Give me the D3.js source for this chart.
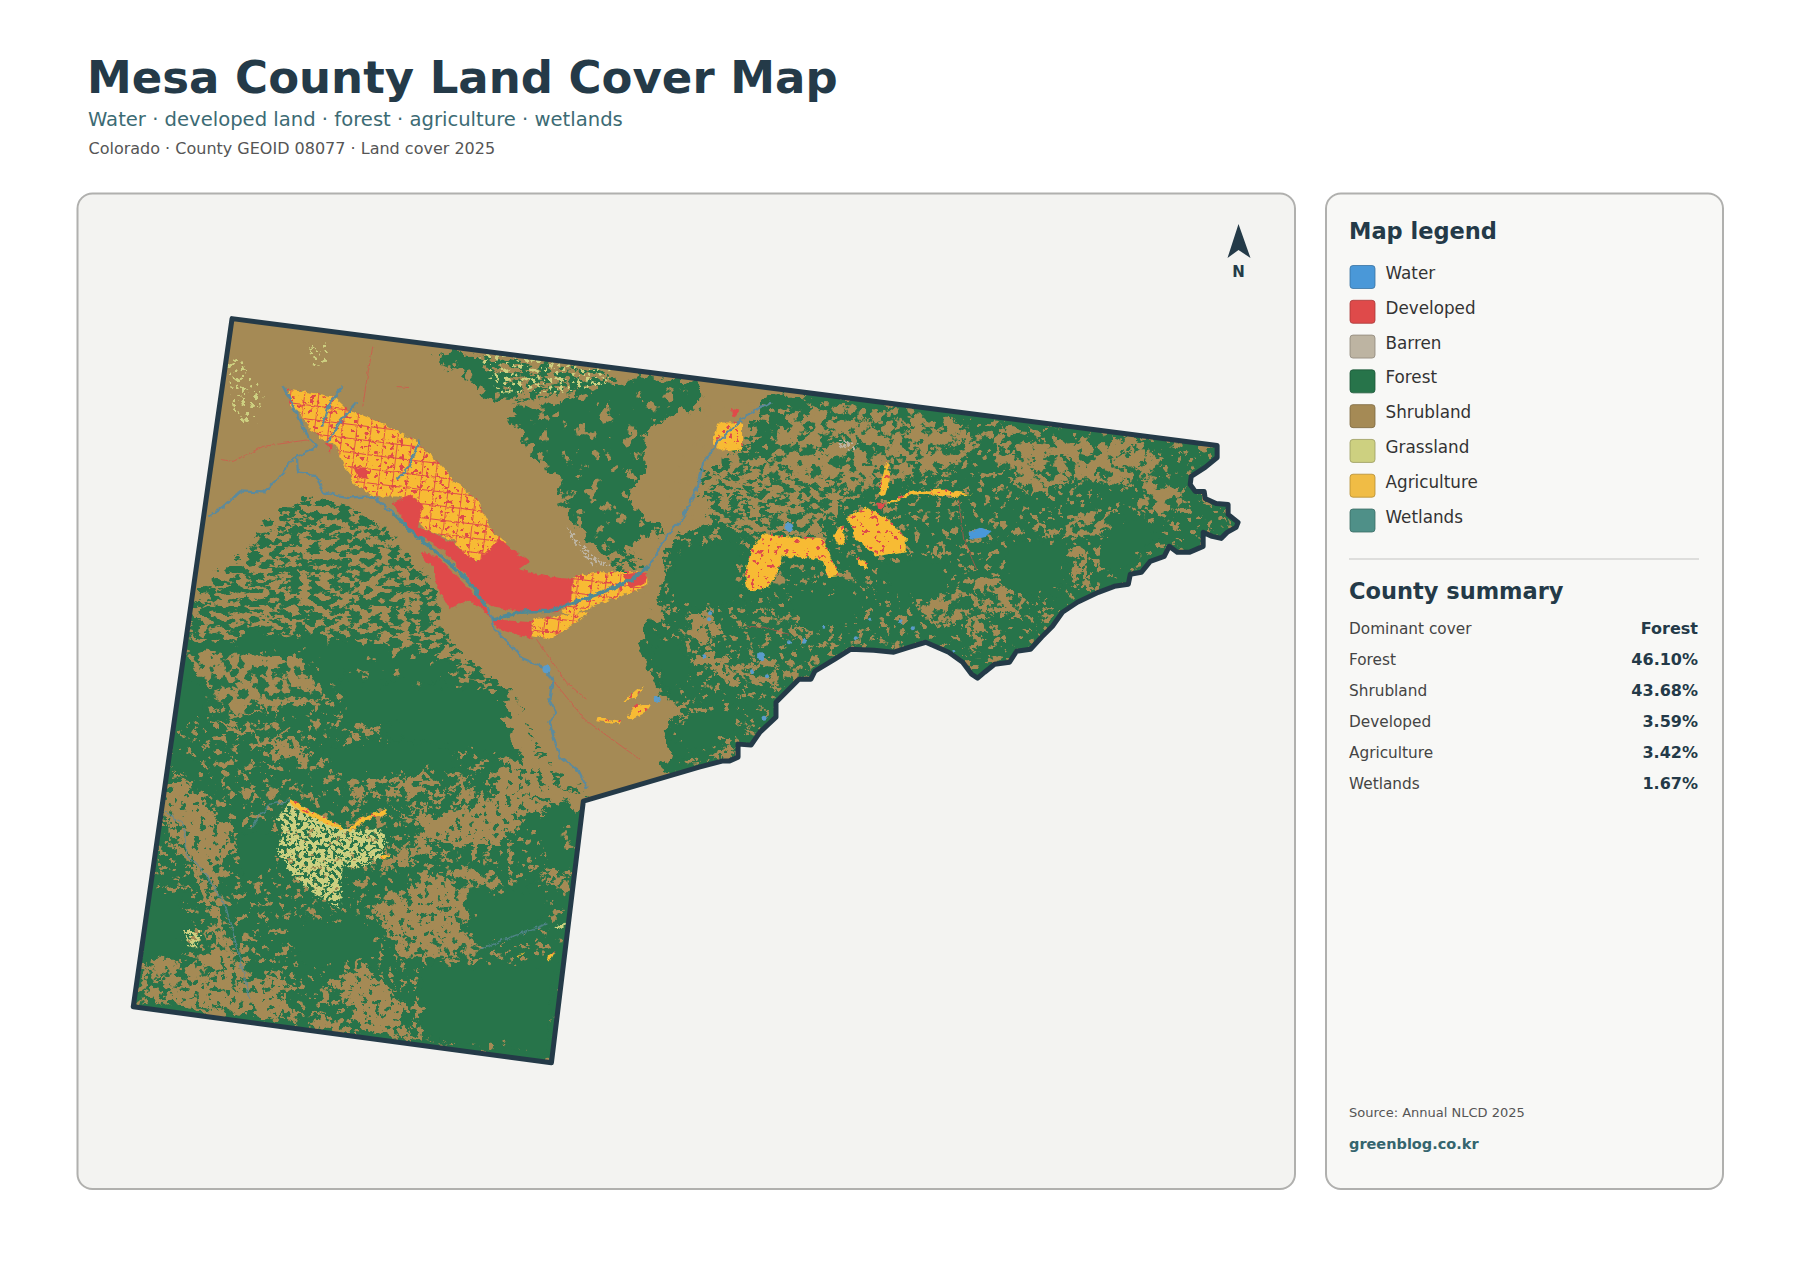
<!DOCTYPE html>
<html>
<head>
<meta charset="utf-8">
<title>Mesa County Land Cover Map</title>
<script src="https://cdn.jsdelivr.net/npm/d3@7"></script>
<style>
  html, body { margin: 0; padding: 0; background: #fff; }
  text { font-family: "DejaVu Sans", sans-serif; }
</style>
</head>
<body>
<svg id="chart" width="1800" height="1273"></svg>
<script>
// legend + summary
var legendNames = ["Water", "Developed", "Barren", "Forest", "Shrubland", "Grassland", "Agriculture", "Wetlands"];
var legendColors = ["#4a98d8", "#df4a4a", "#bdb4a2", "#27744a", "#a58a55", "#cdd080", "#f0bc45", "#4f9088"];
var summaryNames = ["Dominant cover", "Forest", "Shrubland", "Developed", "Agriculture", "Wetlands"];
var summaryValues = ["Forest", "46.10%", "43.68%", "3.59%", "3.42%", "1.67%"];

// map outlines in map units
var countyLine = [[232,319],[1219,446],[1219,458],[1207,468],[1193,477],[1192,485],[1197,492],[1206,492],[1207,499],[1218,504],[1230,505],[1230,515],[1240,523],[1238,528],[1229,533],[1223,539],[1214,537],[1205,533],[1205,547],[1191,553],[1179,553],[1171,547],[1166,557],[1152,562],[1143,573],[1132,575],[1130,585],[1116,587],[1100,593],[1079,603],[1064,613],[1054,627],[1043,638],[1032,650],[1018,652],[1011,663],[996,665],[986,673],[979,679],[973,675],[964,663],[950,653],[927,643],[911,648],[895,653],[875,651],[852,650],[836,660],[816,672],[812,680],[800,680],[777,703],[777,718],[761,733],[752,746],[739,745],[739,758],[730,762],[723,762],[700,768],[584,802],[552,1064],[133,1008]];

// dense forest, broken up by the mass filter
var forestMass = [
  [[100,1030],[150,720],[172,650],[230,640],[300,630],[340,640],[400,650],[440,655],[470,690],[490,740],[510,765],[550,800],[590,815],[600,900],[560,1080]],
  [[772,394],[746,437],[761,463],[807,473],[854,497],[836,520],[818,537],[761,535],[736,527],[711,523],[680,533],[667,557],[660,587],[662,613],[647,623],[642,653],[653,673],[662,693],[690,710],[660,733],[673,753],[667,773],[680,790],[1260,790],[1260,430]]
];
var forestPatchy = [
  [[510,420],[520,407],[553,407],[593,387],[640,377],[700,383],[700,410],[667,417],[640,440],[643,473],[630,500],[647,517],[667,533],[640,540],[627,550],[603,560],[577,530],[567,507],[557,480],[533,453],[517,433]],
  [[437,355],[477,353],[493,367],[520,393],[500,403],[483,397],[470,377],[443,365]]
];
var forestStreaks = [
  [[170,640],[200,593],[243,553],[273,517],[313,500],[357,510],[387,533],[413,563],[433,587],[443,620],[453,650],[500,683],[517,705],[200,705]],
  [[483,357],[600,373],[620,385],[540,400],[510,405]],
  [[600,540],[640,560],[640,580],[620,580]],
  [[517,700],[560,790],[590,800],[540,760]],
  [[746,440],[800,480],[850,497],[830,535],[760,535],[710,525],[700,480]]
];
var shrubPatches = [
  [[163,787],[183,780],[203,797],[217,823],[240,840],[237,850],[220,863],[210,877],[220,917],[230,960],[243,983],[287,977],[293,987],[277,1000],[300,1020],[253,1017],[207,1013],[180,1007],[167,990],[193,983],[223,977],[217,933],[200,880],[183,857],[170,833],[162,807]],
  [[207,720],[233,723],[260,737],[287,737],[313,757],[300,767],[277,757],[260,743]],
  [[353,730],[407,720],[403,728],[380,732],[360,740]],
  [[480,773],[460,783],[433,800],[407,813],[373,817],[353,823],[350,832],[367,818],[383,815],[407,815],[437,803],[467,783]],
  [[390,783],[427,773],[430,780],[413,797],[393,800]],
  [[350,790],[367,783],[383,797],[353,800]],
  [[460,797],[470,787],[473,797],[463,807]],
  [[413,820],[453,813],[487,800],[513,747],[537,767],[557,800],[530,797],[547,810],[520,823],[500,847],[467,847],[433,840],[420,833]],
  [[483,877],[520,890],[567,870],[567,880],[527,897],[483,883]],
  [[387,860],[430,833],[433,843],[407,870],[387,867]],
  [[420,873],[440,880],[460,913],[457,937],[420,947],[393,940],[370,913],[403,897]],
  [[333,990],[360,963],[387,980],[403,1010],[413,1043],[373,1033],[347,1010]],
  [[307,1020],[330,1017],[367,1037],[333,1033]],
  [[705,607],[722,630],[727,637],[713,643],[705,648],[685,637],[690,627]],
  [[700,653],[713,647],[723,663],[737,677],[730,683],[717,677],[703,667]],
  [[713,757],[733,747],[740,753],[733,760],[717,763]],
  [[793,623],[811,630],[800,633],[793,632]],
  [[968,607],[975,607],[982,653],[975,653]],
  [[1075,553],[1086,553],[1086,583],[1079,583]],
  [[938,543],[945,543],[945,575],[939,575]]
];
var shrubMottled = [
  [[1004,427],[1057,440],[1111,437],[1146,443],[1164,467],[1129,487],[1075,480],[1039,497],[1014,487],[993,457]],
  [[807,407],[879,410],[950,420],[986,440],[950,473],[900,480],[857,493],[818,480],[771,473],[779,430]],
  [[971,580],[1014,583],[1032,607],[1000,617],[979,610]],
  [[914,600],[961,593],[964,620],[929,627]],
  [[1086,517],[1114,513],[1107,537],[1075,540],[1039,540]],
  [[1143,480],[1179,480],[1182,503],[1157,527],[1143,513]],
  [[737,670],[777,660],[803,677],[777,687],[747,683]],
  [[746,663],[789,673],[800,680],[779,687],[746,680]],
  [[180,650],[300,660],[330,700],[230,720]],
  [[380,900],[470,870],[520,900],[470,960],[400,960]],
  [[140,960],[240,950],[260,1010],[140,1005]]
];
var shrubFlecks = [
  [[700,400],[1240,440],[1240,540],[1000,690],[680,780],[640,600]],
  [[150,700],[500,700],[560,900],[540,1060],[130,1000]]
];
var forestSolid = [
  [[680,545],[740,540],[745,600],[715,605],[680,610],[665,590]],
  [[650,632],[680,640],[695,680],[670,690],[655,670]],
  [[670,725],[745,700],[735,735],[680,765]],
  [[880,560],[950,560],[945,600],[890,600]],
  [[790,590],[865,590],[860,630],[800,625]],
  [[1005,540],[1070,545],[1065,590],[1010,600]],
  [[1110,520],[1170,520],[1130,570],[1100,570]],
  [[320,745],[440,740],[470,770],[400,775],[330,775]],
  [[172,757],[200,760],[203,777],[175,777]],
  [[235,835],[275,830],[280,870],[240,885]],
  [[285,915],[340,925],[385,925],[380,960],[300,975]],
  [[420,965],[560,960],[550,1055],[425,1040]],
  [[470,890],[550,880],[540,940],[470,945]],
  [[145,890],[185,890],[185,960],[140,960]],
  [[165,680],[210,690],[200,720],[160,740]],
  [[340,680],[500,690],[520,760],[400,740],[345,720]]
];
var grassSpeck = [
  [[290,803],[313,813],[337,827],[353,832],[380,830],[387,843],[380,860],[360,870],[343,867],[340,910],[320,900],[293,877],[277,853],[283,833],[277,820]],
  [[550,930],[567,923],[565,930]],
  [[185,933],[200,933],[197,950],[187,947]]
];
var grassSparse = [
  [[226,360],[240,360],[262,395],[258,425],[236,425]],
  [[310,345],[327,345],[327,368],[312,368]],
  [[470,345],[610,365],[610,385],[560,395],[500,395]]
];
var barrenSpeck = [
  [[567,527],[593,557],[613,567],[593,567],[573,543]],
  [[840,440],[860,445],[855,452],[838,448]],
  [[530,330],[545,332],[540,340]]
];
var agriculture = [
  [[288,390],[310,393],[333,397],[347,410],[380,423],[413,440],[433,457],[453,480],[477,500],[493,533],[507,543],[500,553],[473,563],[453,540],[427,530],[417,520],[417,500],[397,497],[377,497],[357,487],[343,463],[336,447],[323,440],[310,430],[300,413],[290,407]],
  [[573,577],[600,573],[647,573],[647,587],[633,593],[593,607],[573,617],[563,613],[573,597]],
  [[533,620],[590,613],[567,630],[550,640],[533,637]],
  [[718,423],[743,423],[743,450],[725,452],[713,445]],
  [[848,517],[868,508],[893,523],[907,540],[907,552],[879,557],[857,540]],
  [[764,535],[825,540],[832,560],[841,577],[829,578],[823,562],[810,558],[790,558],[783,556],[780,570],[770,588],[755,592],[748,590],[746,577],[752,550]],
  [[834,537],[845,525],[846,547],[838,543]],
  [[857,557],[868,563],[868,570],[859,563]],
  [[888,503],[914,492],[943,490],[975,495],[950,497],[914,495],[889,505]],
  [[880,493],[888,460],[891,480],[886,497]],
  [[633,693],[645,688],[637,698],[623,703]],
  [[628,717],[637,705],[652,705],[647,713],[633,720]],
  [[598,718],[623,722],[620,724],[597,722]],
  [[290,800],[307,810],[333,823],[347,832],[360,820],[387,810],[387,815],[363,823],[350,833],[330,827],[303,813],[290,805]],
  [[380,857],[390,855],[383,862]],
  [[517,957],[525,953],[520,958]],
  [[548,957],[555,953],[550,963]]
];
var farmWithGrid = agriculture.slice(0, 3);
var developed = [
  [[393,503],[410,495],[423,507],[417,527],[433,533],[453,543],[477,563],[500,540],[530,563],[520,570],[547,577],[573,580],[573,600],[558,613],[520,612],[493,607],[483,600],[470,580],[443,550],[420,537],[407,527]],
  [[420,553],[437,557],[457,577],[480,600],[487,610],[493,620],[533,623],[533,640],[500,630],[490,617],[470,600],[450,610],[440,593],[433,570]],
  [[354,468],[366,468],[368,478],[358,480]],
  [[325,443],[333,447],[331,453]],
  [[732,408],[740,410],[738,418],[733,417]],
  [[878,502],[886,503],[885,510],[879,509]],
  [[622,575],[648,573],[645,585],[630,588]]
];
var wetlandLines = [
  [[208,518],[223,507],[240,492],[263,493],[277,480],[290,463],[297,457],[298,473],[317,477],[323,493],[350,498],[373,497],[393,513]],
  [[487,607],[493,620],[495,630],[513,647],[523,660],[547,670],[553,683],[550,700],[557,713],[550,723],[560,757],[580,773],[588,790]],
  [[650,567],[667,537],[683,520],[700,483],[704,463],[721,440],[746,417],[771,402]],
  [[283,387],[310,440],[317,447],[297,457]],
  [[343,387],[330,403],[323,427]],
  [[357,403],[340,423],[327,443]],
  [[420,440],[410,467],[397,480]]
];
var wetlandWide = [
  [[393,513],[413,533],[433,550],[457,570],[473,587],[487,607]],
  [[493,620],[520,613],[550,612],[583,600],[610,590],[633,580],[650,567]]
];
var wetlandFaint = [
  [[165,812],[183,825],[187,855],[205,875],[225,905],[240,960],[250,1000]],
  [[250,830],[270,805],[290,802]],
  [[480,950],[520,935],[548,925]]
];
var roadLines = [
  [[220,460],[233,462],[263,447],[310,440]],
  [[373,347],[367,380],[363,407]],
  [[397,387],[410,388]],
  [[537,640],[567,683],[587,700]],
  [[555,683],[585,720],[640,760]],
  [[748,627],[765,628],[790,635]],
  [[960,500],[965,540],[978,570]]
];
var lakes = [
  [[970,533],[982,528],[993,532],[986,538],[971,540]]
];
var waterSpots = [[547,670,4],[658,700,3.5],[762,657,4],[765,719,2.5],[710,620,2],[711,614,2],[705,657,2],[790,528,4.5],[805,642,2.5],[790,643,2],[753,672,2],[768,677,2],[857,639,2],[902,622,2],[914,629,2],[871,620,1.5],[955,652,1.5],[825,628,1.5]];

var panelFill = "#f3f3f1", sideFill = "#f8f8f6", panelEdge = "#b0b0ae", ink = "#243a48";

var svg = d3.select("#chart");
var defs = svg.append("defs");

// outlines were read straight off the page, only a slight squeeze left
var xScale = d3.scaleLinear().domain([0, 1800]).range([0.5, 1797]);
var yScale = d3.scaleLinear().domain([0, 1273]).range([0, 1271.5]);
var openLine = d3.line().x(d => xScale(d[0])).y(d => yScale(d[1]));
var ringLine = d3.line().x(d => xScale(d[0])).y(d => yScale(d[1])).curve(d3.curveLinearClosed);

function filterBox(id) {
    return defs.append("filter").attr("id", id)
        .attr("filterUnits", "userSpaceOnUse")
        .attr("x", 0).attr("y", 0).attr("width", 1800).attr("height", 1273)
        .attr("color-interpolation-filters", "sRGB");
}

// ragged raster-like edge
function roughFilter(id, freq, amount, seed) {
    var f = filterBox(id);
    f.append("feTurbulence").attr("type", "fractalNoise").attr("baseFrequency", freq)
        .attr("numOctaves", 5).attr("seed", seed).attr("result", "n");
    f.append("feDisplacementMap").attr("in", "SourceGraphic").attr("in2", "n")
        .attr("scale", amount).attr("xChannelSelector", "R").attr("yChannelSelector", "G");
}

// keeps only part of a shape, the salt and pepper of the land cover raster
function speckFilter(id, freq, octaves, cut, push, seed) {
    var f = filterBox(id);
    f.append("feTurbulence").attr("type", "fractalNoise").attr("baseFrequency", freq)
        .attr("numOctaves", octaves).attr("seed", seed).attr("result", "n");
    f.append("feColorMatrix").attr("in", "n").attr("type", "matrix")
        .attr("values", "0 0 0 0 0  0 0 0 0 0  0 0 0 0 0  22 0 0 0 " + (-22 * cut)).attr("result", "m");
    f.append("feDisplacementMap").attr("in", "SourceGraphic").attr("in2", "n")
        .attr("scale", push).attr("xChannelSelector", "G").attr("yChannelSelector", "R").attr("result", "d");
    f.append("feComposite").attr("in", "d").attr("in2", "m").attr("operator", "in");
}

roughFilter("rough", "0.09", 30, 3);
roughFilter("roughFine", "0.14", 6, 8);
roughFilter("roughTiny", "0.2", 3, 14);
speckFilter("mass", "0.075", 5, 0.27, 30, 5);
speckFilter("patchy", "0.08", 5, 0.32, 26, 9);
speckFilter("streaks", "0.1 0.15", 4, 0.47, 20, 15);
speckFilter("mottled", "0.09", 4, 0.45, 20, 11);
speckFilter("flecks", "0.14", 4, 0.63, 5, 27);
speckFilter("forestFlecks", "0.16", 4, 0.6, 6, 33);
speckFilter("speckGrass", "0.24", 3, 0.44, 8, 21);
speckFilter("sparseGrass", "0.22", 3, 0.6, 8, 23);
speckFilter("speckBarren", "0.3", 2, 0.5, 6, 31);
speckFilter("speckRed", "0.2", 3, 0.64, 4, 41);

// road grid inside the farmland
var roads = defs.append("pattern").attr("id", "roadGrid").attr("patternUnits", "userSpaceOnUse")
    .attr("width", 14).attr("height", 14).attr("patternTransform", "rotate(7)");
roads.append("path").attr("d", "M0 0H14M0 0V14").attr("stroke", "#df4a4a").attr("stroke-width", 1.8).attr("fill", "none");

defs.append("clipPath").attr("id", "countyClip").append("path").attr("d", ringLine(countyLine));

// ******panels
svg.append("rect").attr("x", 77.5).attr("y", 193.5).attr("width", 1217.5).attr("height", 995.5).attr("rx", 15)
    .attr("fill", panelFill).attr("stroke", panelEdge).attr("stroke-width", 2);
svg.append("rect").attr("x", 1326).attr("y", 193.5).attr("width", 397).attr("height", 995.5).attr("rx", 15)
    .attr("fill", sideFill).attr("stroke", panelEdge).attr("stroke-width", 2);

// ******titles
svg.append("text").attr("x", 87).attr("y", 92.5).attr("font-size", 45).attr("font-weight", 700).attr("fill", ink)
    .text("Mesa County Land Cover Map");
svg.append("text").attr("x", 88).attr("y", 126).attr("font-size", 19.6).attr("fill", "#3c6b74")
    .text("Water · developed land · forest · agriculture · wetlands");
svg.append("text").attr("x", 88.5).attr("y", 153.5).attr("font-size", 16).attr("fill", "#555")
    .text("Colorado · County GEOID 08077 · Land cover 2025");

// ******map layers, bottom to top
var landCover = svg.append("g").attr("clip-path", "url(#countyClip)");
landCover.append("path").attr("d", ringLine(countyLine)).attr("fill", "#a58a55");

function addLayer(polys, color, filter) {
    landCover.append("g").attr("filter", "url(#" + filter + ")")
        .selectAll("path").data(polys).join("path")
        .attr("d", ringLine).attr("fill", color);
}

function addLines(lines, color, width, filter, alpha) {
    landCover.append("g").attr("filter", "url(#" + filter + ")").attr("opacity", alpha)
        .selectAll("path").data(lines).join("path")
        .attr("d", openLine).attr("fill", "none").attr("stroke", color).attr("stroke-width", width)
        .attr("stroke-linejoin", "round");
}

addLayer(forestStreaks, "#27744a", "streaks");
addLayer(forestMass, "#27744a", "mass");
addLayer(forestPatchy, "#27744a", "patchy");
addLayer(shrubPatches, "#a58a55", "rough");
addLayer(shrubMottled, "#a58a55", "mottled");
addLayer(shrubFlecks, "#a58a55", "flecks");
addLayer(forestSolid, "#27744a", "rough");
addLayer(shrubPatches, "#27744a", "forestFlecks");
addLayer(barrenSpeck, "#bdb4a2", "speckBarren");
addLayer(grassSpeck, "#cdd080", "speckGrass");
addLayer(grassSparse, "#cdd080", "sparseGrass");

addLines(roadLines, "#df4a4a", 1, "roughTiny", 0.6);

addLayer(agriculture, "#f7bb34", "roughFine");
addLayer(farmWithGrid, "url(#roadGrid)", "roughTiny");
addLayer(agriculture, "#df4a4a", "speckRed");
addLayer(developed, "#df4a4a", "roughFine");

addLines(wetlandLines, "#5c8a9c", 2.2, "roughFine", 1);
addLines(wetlandWide, "#4f8a96", 3.6, "roughFine", 1);
addLines(wetlandFaint, "#5c8a9c", 1.4, "roughFine", 0.75);

addLayer(lakes, "#4a98d8", "roughTiny");
landCover.append("g").attr("filter", "url(#roughTiny)").selectAll("circle").data(waterSpots).join("circle")
    .attr("cx", d => xScale(d[0])).attr("cy", d => yScale(d[1])).attr("r", d => d[2]).attr("fill", "#5a9ccb");

// county border on top of everything
svg.append("path").attr("d", ringLine(countyLine)).attr("fill", "none")
    .attr("stroke", ink).attr("stroke-width", 5).attr("stroke-linejoin", "round");

// ******north arrow
svg.append("path").attr("d", "M1238.5 224L1250.5 258L1238.5 250L1227.5 258Z").attr("fill", ink);
svg.append("text").attr("x", 1238.5).attr("y", 277).attr("text-anchor", "middle").attr("font-size", 15)
    .attr("font-weight", 700).attr("fill", ink).text("N");

// ******legend
svg.append("text").attr("x", 1349).attr("y", 239).attr("font-size", 22.5).attr("font-weight", 700).attr("fill", ink)
    .text("Map legend");

var legendRow = d3.scalePoint().domain(legendNames).range([265.5, 509]);
var legend = svg.append("g").selectAll("g").data(legendNames).join("g")
    .attr("transform", d => `translate(0,${legendRow(d)})`);
legend.append("rect").attr("x", 1350).attr("width", 25).attr("height", 23).attr("rx", 3)
    .attr("fill", (d, i) => legendColors[i])
    .attr("stroke", (d, i) => d3.color(legendColors[i]).darker(0.8)).attr("stroke-width", 0.8);
legend.append("text").attr("x", 1385.5).attr("y", 13.5).attr("font-size", 16.8).attr("fill", "#333").text(d => d);

svg.append("line").attr("x1", 1349).attr("x2", 1699).attr("y1", 559).attr("y2", 559)
    .attr("stroke", "#c4c4c2").attr("stroke-width", 1.2);

// ******summary
svg.append("text").attr("x", 1349).attr("y", 599).attr("font-size", 22.5).attr("font-weight", 700).attr("fill", ink)
    .text("County summary");

var summaryRow = d3.scalePoint().domain(summaryNames.map((d, i) => i)).range([633.5, 789]);
var summary = svg.append("g").selectAll("g").data(summaryNames).join("g")
    .attr("transform", (d, i) => `translate(0,${summaryRow(i)})`);
summary.append("text").attr("x", 1349).attr("font-size", 15.3).attr("fill", "#444").text(d => d);
summary.append("text").attr("x", 1698).attr("text-anchor", "end").attr("font-size", 16).attr("font-weight", 700)
    .attr("fill", ink).text((d, i) => summaryValues[i]);

svg.append("text").attr("x", 1349).attr("y", 1116.5).attr("font-size", 13).attr("fill", "#555")
    .text("Source: Annual NLCD 2025");
svg.append("text").attr("x", 1349).attr("y", 1149).attr("font-size", 14.5).attr("font-weight", 700).attr("fill", "#35656e")
    .text("greenblog.co.kr");
</script>
</body>
</html>
